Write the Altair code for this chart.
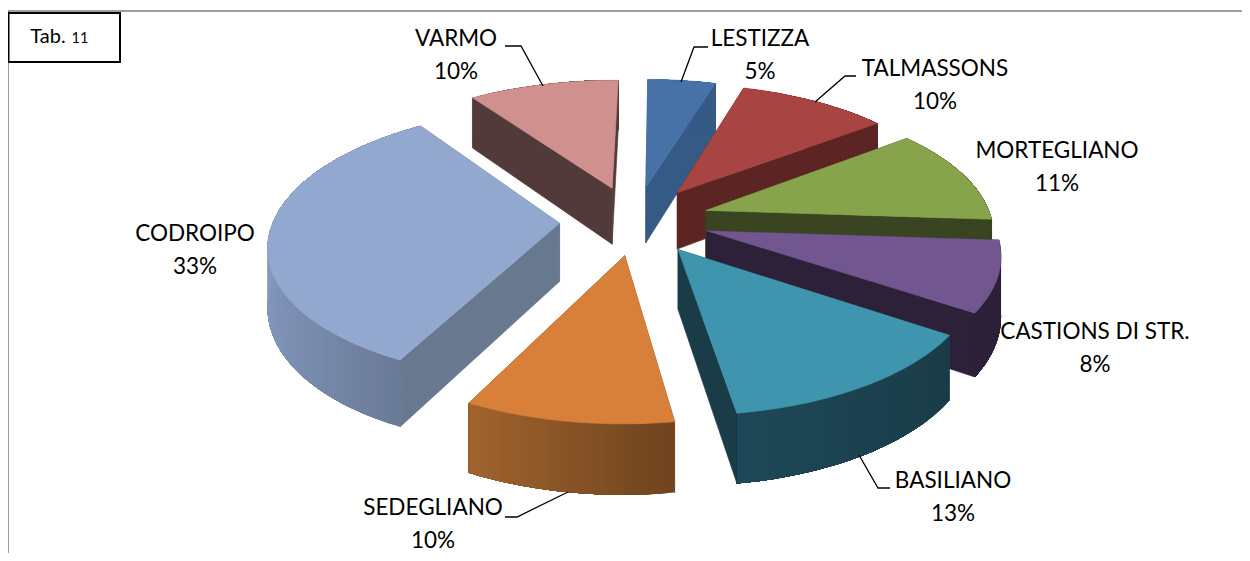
import math
import numpy as np
import altair as alt

# ---- chart values ----
categories = ["LESTIZZA", "TALMASSONS", "MORTEGLIANO", "CASTIONS DI STR.",
              "BASILIANO", "SEDEGLIANO", "CODROIPO", "VARMO"]
shares = [5, 10, 11, 8, 13, 10, 33, 10]

# ---- styles ----
top_colors = ["#4672A8", "#A84442", "#87A44C", "#72568F", "#4095AE", "#D8803A", "#92A8CE", "#CF908E"]
wall_colors = ["#365A86", "#5C2422", "#384520", "#2C2139", "#1A3C48", "#6E431E", "#68788F", "#533A3A"]
rim_left = ["#365A86", "#5C2422", "#384520", "#2C2139", "#1E4858", "#A0642E", "#8398BE", "#533A3A"]
rim_right = ["#365A86", "#5C2422", "#384520", "#2C2139", "#1A3C48", "#6E431E", "#6A7A96", "#533A3A"]

# ---- layout ----
CX, CY = 634.5, 220
RADIUS, EXPLODE, DEPTH = 286, 75, 58
TILT, PERSPECTIVE = 0.462, 1968
# small angular correction (degrees) for the reference's uneven 3-D view
warp_at = [0, 18, 54, 94, 122, 169, 205, 324, 360]
warp_by = [0.8, -1.0, -1.3, 0.3, 1.5, 2.3, 1.5, 1.0, 0.8]
label_pos = {
    "LESTIZZA": (760, 39), "TALMASSONS": (935, 69), "MORTEGLIANO": (1057, 151),
    "CASTIONS DI STR.": (1095, 332), "BASILIANO": (953, 481), "SEDEGLIANO": (433, 508),
    "CODROIPO": (195, 234), "VARMO": (456, 39),
}
LINE_GAP = 33
leaders = [
    [(681, 82), (694, 47), (708, 47)],
    [(815, 102), (845, 76), (856, 76)],
    [(543, 86), (521, 46), (505, 46)],
    [(859, 455), (878, 488), (890, 488)],
    [(568, 492), (517, 517), (505, 517)],
]


def project(x, y, z=0.0):
    s = 1.0 / (1.0 - y / PERSPECTIVE)
    return [CX + x * s, CY + TILT * y * s + z * s]


def mix(a, b, t):
    ca = [int(a[i:i + 2], 16) for i in (1, 3, 5)]
    cb = [int(b[i:i + 2], 16) for i in (1, 3, 5)]
    return "#" + "".join("%02x" % round(p + (q - p) * t) for p, q in zip(ca, cb))


def poly(points, fill, sw=0.6):
    return {"type": "Feature", "properties": {"fill": fill, "sw": sw},
            "geometry": {"type": "Polygon", "coordinates": [points + [points[0]]]}}


def warped(a):
    d = math.degrees(a)
    return a + math.radians(float(np.interp(d, warp_at, warp_by)))


total = sum(shares)
cum = 0
slices = []
for i, share in enumerate(shares):
    a0 = 2 * math.pi * cum / total
    a1 = 2 * math.pi * (cum + share) / total
    cum += share
    mid = (a0 + a1) / 2
    tx, ty = EXPLODE * math.sin(mid), -EXPLODE * math.cos(mid)
    steps = max(2, int(share * 3))
    angles = [warped(a0 + (a1 - a0) * k / steps) for k in range(steps + 1)]
    rim = [(tx + RADIUS * math.sin(a), ty - RADIUS * math.cos(a)) for a in angles]
    slices.append((ty, i, (tx, ty), rim))

features = []
for ty, i, tip, rim in sorted(slices, key=lambda s: s[0]):
    for end in (rim[0], rim[-1]):
        features.append(poly([project(*tip), project(*end), project(*end, DEPTH), project(*tip, DEPTH)],
                             wall_colors[i]))
    n = len(rim) - 1
    xs = [r[0] for r in rim]
    for k in range(n):
        # each band runs to the end of the rim, the next one paints over it: no seams
        t = ((rim[k][0] + rim[k + 1][0]) / 2 - min(xs)) / max(1e-6, max(xs) - min(xs))
        rest = rim[k:]
        pts = [project(*p) for p in rest] + [project(*p, DEPTH) for p in reversed(rest)]
        features.append(poly(pts, mix(rim_left[i], rim_right[i], t), 0))
    features.append(poly([project(*tip)] + [project(*r) for r in rim], top_colors[i]))

proj = alt.Projection(type="identity", scale=1, translate=[-12, -12]).to_dict()


def fc(feats):
    return alt.InlineData(values={"type": "FeatureCollection", "features": feats},
                          format=alt.DataFormat(property="features", type="json"))


pie = (
    alt.Chart(fc(features))
    .mark_geoshape(clip=False)
    .encode(fill=alt.Color("properties.fill:N", scale=None),
            stroke=alt.Color("properties.fill:N", scale=None),
            strokeWidth=alt.StrokeWidth("properties.sw:Q", scale=None))
    .project(**proj)
)


def line_layer(paths, color, width):
    feats = [{"type": "Feature", "properties": {},
              "geometry": {"type": "LineString", "coordinates": [list(p) for p in path]}} for path in paths]
    return (alt.Chart(fc(feats))
            .mark_geoshape(filled=False, stroke=color, strokeWidth=width, clip=False)
            .project(**proj))


frame = line_layer([[(8, 561), (8, 11), (1250, 11)]], "#808080", 1.5)
box = (alt.Chart(fc([poly([[8.5, 13], [120, 13], [120, 62], [8.5, 62]], "#ffffff")]))
       .mark_geoshape(fill="#ffffff", stroke="#000000", strokeWidth=2, clip=False)
       .project(**proj))
leader = line_layer(leaders, "#000000", 1.3)

rows = []
for c, s in zip(categories, shares):
    x, y = label_pos[c]
    rows.append({"t": c, "lon": x, "lat": y})
    rows.append({"t": f"{s}%", "lon": x, "lat": y + LINE_GAP})


def text_layer(data, size):
    return (alt.Chart(alt.Data(values=data))
            .mark_text(font="Lato", fontSize=size, color="#000000", align="center", baseline="middle", clip=False)
            .encode(longitude="lon:Q", latitude="lat:Q", text="t:N")
            .project(**proj))


labels = text_layer(rows, 22.5)
tab1 = text_layer([{"t": "Tab.", "lon": 48, "lat": 37}], 20)
tab2 = text_layer([{"t": "11", "lon": 80, "lat": 39}], 14.5)

chart = (
    alt.layer(frame, pie, leader, box, labels, tab1, tab2)
    .properties(width=1230, height=541,
                padding={"left": 4, "top": 4, "right": 0, "bottom": 0},
                autosize=alt.AutoSizeParams(type="none"))
    .configure_view(stroke=None)
    .configure(background="#ffffff")
)
chart.save("out.html", embed_options={"renderer": "svg", "actions": False})
